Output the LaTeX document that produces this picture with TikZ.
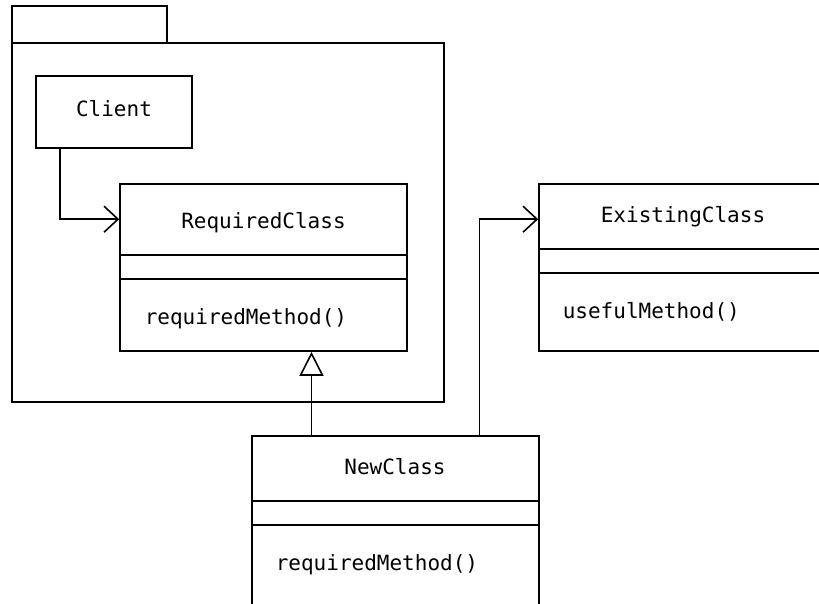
\documentclass[tikz,border=0pt]{standalone}
\usepackage{fontspec}
\setmonofont{DejaVu Sans Mono}
\usetikzlibrary{arrows.meta}

\begin{document}
\begin{tikzpicture} [x=1pt, y=-1pt, line width=1.6pt, font=\ttfamily\fontsize{21}{25}\selectfont,
	box/.style={draw, rectangle, inner sep=0pt},
	class/.style={box, minimum width=287pt, minimum height=167pt},
	assoc/.style={-{Straight Barb[length=14pt, width=26pt]}},
	inherit/.style={-{Triangle[open, length=24pt, width=24pt]}}]
\useasboundingbox (0,0) rectangle (819,603);
\clip (0,0) rectangle (819,603);

\path (89.5,24.5) node[box, minimum width=155pt, minimum height=37pt] (tab) {}
	  (228,222.5) node[box, minimum width=432pt, minimum height=359pt] (pkg) {};

\path (114,112) node[box, minimum width=156pt, minimum height=72pt, text height=16pt, text depth=8pt] (client) {Client};

\path (263.5,267.5) node[class] (rc) {}
	  (263.5,228) node[anchor=base] (rcname) {RequiredClass}
	  (144,324) node[anchor=base west, inner sep=0pt] (rcop) {requiredMethod()};
\draw (rc.north west) ++(0,72) -- ++(287,0);
\draw (rc.north west) ++(0,96) -- ++(287,0);

\path (682.5,267.5) node[class] (ec) {}
	  (683,222) node[anchor=base] (ecname) {ExistingClass}
	  (562,318) node[anchor=base west, inner sep=0pt] (ecop) {usefulMethod()};
\draw (ec.north west) ++(0,66) -- ++(287,0);
\draw (ec.north west) ++(0,90) -- ++(287,0);

\path (395.5,522) node[class, minimum height=172pt] (nc) {}
	  (395,474) node[anchor=base] (ncname) {NewClass}
	  (275,570) node[anchor=base west, inner sep=0pt] (ncop) {requiredMethod()};
\draw (nc.north west) ++(0,66) -- ++(287,0);
\draw (nc.north west) ++(0,90) -- ++(287,0);

\coordinate (ncl) at ([xshift=-84pt]nc.north);
\coordinate (ncr) at ([xshift=84pt]nc.north);

\draw[assoc] ([xshift=-54pt]client.south) |- ([yshift=-36pt]rc.north west);
\draw[inherit] (ncl) -- (ncl |- rc.south);
\draw[assoc] (ncr) |- ([yshift=-36pt]ec.north west);
\end{tikzpicture}
\end{document}
